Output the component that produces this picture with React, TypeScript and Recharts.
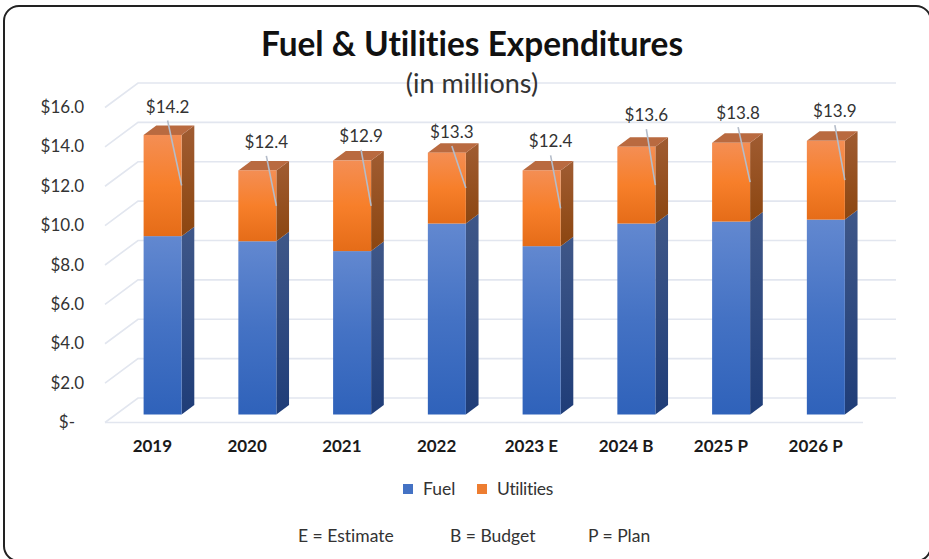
import React from "react";
import { BarChart, Bar, XAxis, YAxis, CartesianGrid, LabelList, Legend } from "recharts";

const categories = ["2019", "2020", "2021", "2022", "2023 E", "2024 B", "2025 P", "2026 P"];
const fuel = [9.06, 8.8, 8.3, 9.7, 8.55, 9.7, 9.8, 9.9];
const utilities = [5.14, 3.6, 4.6, 3.6, 3.85, 3.9, 4.0, 4.0];
const totals = [14.2, 12.4, 12.9, 13.3, 12.4, 13.6, 13.8, 13.9];
const yTicks = [0, 2, 4, 6, 8, 10, 12, 14, 16];

const leaderDx = [-14, -10, -10, -14, -10, -9, -12, -10];
const leaderDy = [-65, -50, -56, -42, -53, -56, -55, -55];

const rows = categories.map((category, i) => ({
  category,
  fuel: fuel[i],
  utilities: utilities[i],
}));

const FONT = "Lato, 'Open Sans', sans-serif";
const BAR_SHIFT = 10.6;
const DEPTH_X = 12.7;
const DEPTH_Y = 9.5;
const GRID = "#e2e6ef";

const makeBar = (front: string, side: string, withTop: boolean) => (props: any) => {
  const { x, y, width, height } = props;
  const l = x + BAR_SHIFT;
  const r = l + width;
  const b = y + height;
  return (
    <g>
      <polygon
        points={`${r},${y} ${r + DEPTH_X},${y - DEPTH_Y} ${r + DEPTH_X},${b - DEPTH_Y} ${r},${b}`}
        fill={`url(#${side})`}
      />
      {withTop && (
        <polygon
          points={`${l},${y} ${l + DEPTH_X},${y - DEPTH_Y} ${r + DEPTH_X},${y - DEPTH_Y} ${r},${y}`}
          fill="#b96a40"
        />
      )}
      <rect x={l} y={y} width={width} height={height} fill={`url(#${front})`} />
    </g>
  );
};

const FuelShape = makeBar("fuelFront", "fuelSide", false);
const UtilShape = makeBar("utilFront", "utilSide", true);

const gridLine = (props: any) => {
  const { x1, x2, y1, key } = props;
  const isFloor = Math.abs(y1 - 414.5) < 1;
  const left = x1;
  const right = x2;
  const backLeft = left + 33;
  const backRight = right + 33;
  const frontY = y1 + 8;
  const backY = y1 - 16.5;
  return (
    <g key={key}>
      <polyline
        points={`${left},${frontY} ${backLeft},${backY} ${backRight},${backY}`}
        fill="none"
        stroke={GRID}
        strokeWidth={1.6}
      />
      {isFloor && <line x1={left} x2={right} y1={frontY} y2={frontY} stroke={GRID} strokeWidth={1.6} />}
    </g>
  );
};

const YTick = (props: any) => {
  const { y, payload } = props;
  const zero = payload.value === 0;
  return (
    <text
      x={zero ? 75 : 84}
      y={y + 7.5}
      dy={6}
      textAnchor="end"
      fontFamily={FONT}
      fontSize={17}
      fill="#333"
    >
      {zero ? "$-" : `$${payload.value.toFixed(1)}`}
    </text>
  );
};

const XTick = (props: any) => {
  const { x, y, payload } = props;
  return (
    <text x={x} y={y} dy={0} textAnchor="middle" fontFamily={FONT} fontWeight={700} fontSize={17} fill="#1a1a1a">
      {payload.value}
    </text>
  );
};

const LeaderLabel = (props: any) => {
  const { x, y, width, height, index } = props;
  const ax = x + BAR_SHIFT + width;
  const ay = y + height / 2;
  const tx = ax + leaderDx[index];
  const ty = ay + leaderDy[index];
  return (
    <g>
      <line x1={tx} y1={ty} x2={ax} y2={ay} stroke="#b4bcc9" strokeWidth={1.6} />
      <text x={tx} y={ty - 8} textAnchor="middle" fontFamily={FONT} fontSize={17} fill="#333">
        {`$${totals[index].toFixed(1)}`}
      </text>
    </g>
  );
};

const LegendContent = () => (
  <div style={{ position: "relative", height: 0, fontFamily: FONT, fontSize: 17.5, color: "#333", fontVariantLigatures: "none", lineHeight: "22px" }}>
    <span style={{ position: "absolute", left: 403, top: 5, width: 10, height: 10, background: "#4472c4" }} />
    <span style={{ position: "absolute", left: 423, top: -1 }}>Fuel</span>
    <span style={{ position: "absolute", left: 477, top: 5, width: 10, height: 10, background: "#ed7d31" }} />
    <span style={{ position: "absolute", left: 497, top: -1, letterSpacing: -0.3 }}>Utilities</span>
  </div>
);

const noteStyle: React.CSSProperties = {
  position: "absolute",
  top: 525,
  fontFamily: FONT,
  fontSize: 17.5,
  color: "#333",
  lineHeight: "22px",
  whiteSpace: "nowrap",
  fontVariantLigatures: "none",
};

export default function App() {
  return (
    <div style={{ position: "absolute", left: 0, top: 0, width: 929, height: 559, overflow: "hidden", background: "#fff" }}>
      <div
        style={{
          position: "absolute",
          left: 3,
          top: 5,
          width: 929,
          height: 557,
          border: "2.5px solid #222",
          borderRadius: 16,
          boxSizing: "border-box",
        }}
      />
      <BarChart
        width={929}
        height={559}
        data={rows}
        margin={{ top: 99.5, right: 66, bottom: 0, left: 0 }}
        barSize={38}
        style={{ position: "absolute", left: 0, top: 0 }}
      >
        <defs>
          <linearGradient id="fuelFront" x1="0" y1="0" x2="0" y2="1">
            <stop offset="0" stopColor="#6288d0" />
            <stop offset="0.5" stopColor="#4472c4" />
            <stop offset="1" stopColor="#2f62ba" />
          </linearGradient>
          <linearGradient id="fuelSide" x1="0" y1="0" x2="0" y2="1">
            <stop offset="0" stopColor="#3f5788" />
            <stop offset="1" stopColor="#1f3d78" />
          </linearGradient>
          <linearGradient id="utilFront" x1="0" y1="0" x2="0" y2="1">
            <stop offset="0" stopColor="#f48e54" />
            <stop offset="0.5" stopColor="#f77f2a" />
            <stop offset="1" stopColor="#e56c18" />
          </linearGradient>
          <linearGradient id="utilSide" x1="0" y1="0" x2="0" y2="1">
            <stop offset="0" stopColor="#a05c32" />
            <stop offset="1" stopColor="#8c4610" />
          </linearGradient>
        </defs>
        <CartesianGrid vertical={false} horizontal={gridLine as any} stroke={GRID} />
        <XAxis
          dataKey="category"
          axisLine={false}
          tickLine={false}
          interval={0}
          height={144.5}
          tick={XTick as any}
          tickMargin={31.5}
        />
        <YAxis
          width={105}
          domain={[0, 16]}
          ticks={yTicks}
          interval={0}
          axisLine={false}
          tickLine={false}
          tick={YTick as any}
        />
        <Bar dataKey="fuel" stackId="a" isAnimationActive={false} shape={FuelShape as any} />
        <Bar dataKey="utilities" stackId="a" isAnimationActive={false} shape={UtilShape as any}>
          <LabelList dataKey="utilities" content={LeaderLabel as any} />
        </Bar>
        <Legend
          content={LegendContent as any}
          wrapperStyle={{ position: "absolute", left: 0, top: 479, width: 929, bottom: "auto", height: 0 }}
        />
      </BarChart>
      <div
        style={{
          position: "absolute",
          left: 0,
          width: 944,
          top: 21,
          textAlign: "center",
          fontFamily: FONT,
          fontWeight: 700,
          fontSize: 33.4,
          lineHeight: "44px",
          color: "#111",
          fontVariantLigatures: "none",
        }}
      >
        Fuel &amp; Utilities Expenditures
      </div>
      <div
        style={{
          position: "absolute",
          left: 0,
          width: 944,
          top: 67,
          textAlign: "center",
          fontFamily: FONT,
          fontSize: 27,
          lineHeight: "32px",
          color: "#333",
          background: "transparent",
          fontVariantLigatures: "none",
        }}
      >
        (in millions)
      </div>
      <div style={{ ...noteStyle, left: 298 }}>E = Estimate</div>
      <div style={{ ...noteStyle, left: 450 }}>B = Budget</div>
      <div style={{ ...noteStyle, left: 588 }}>P = Plan</div>
    </div>
  );
}
